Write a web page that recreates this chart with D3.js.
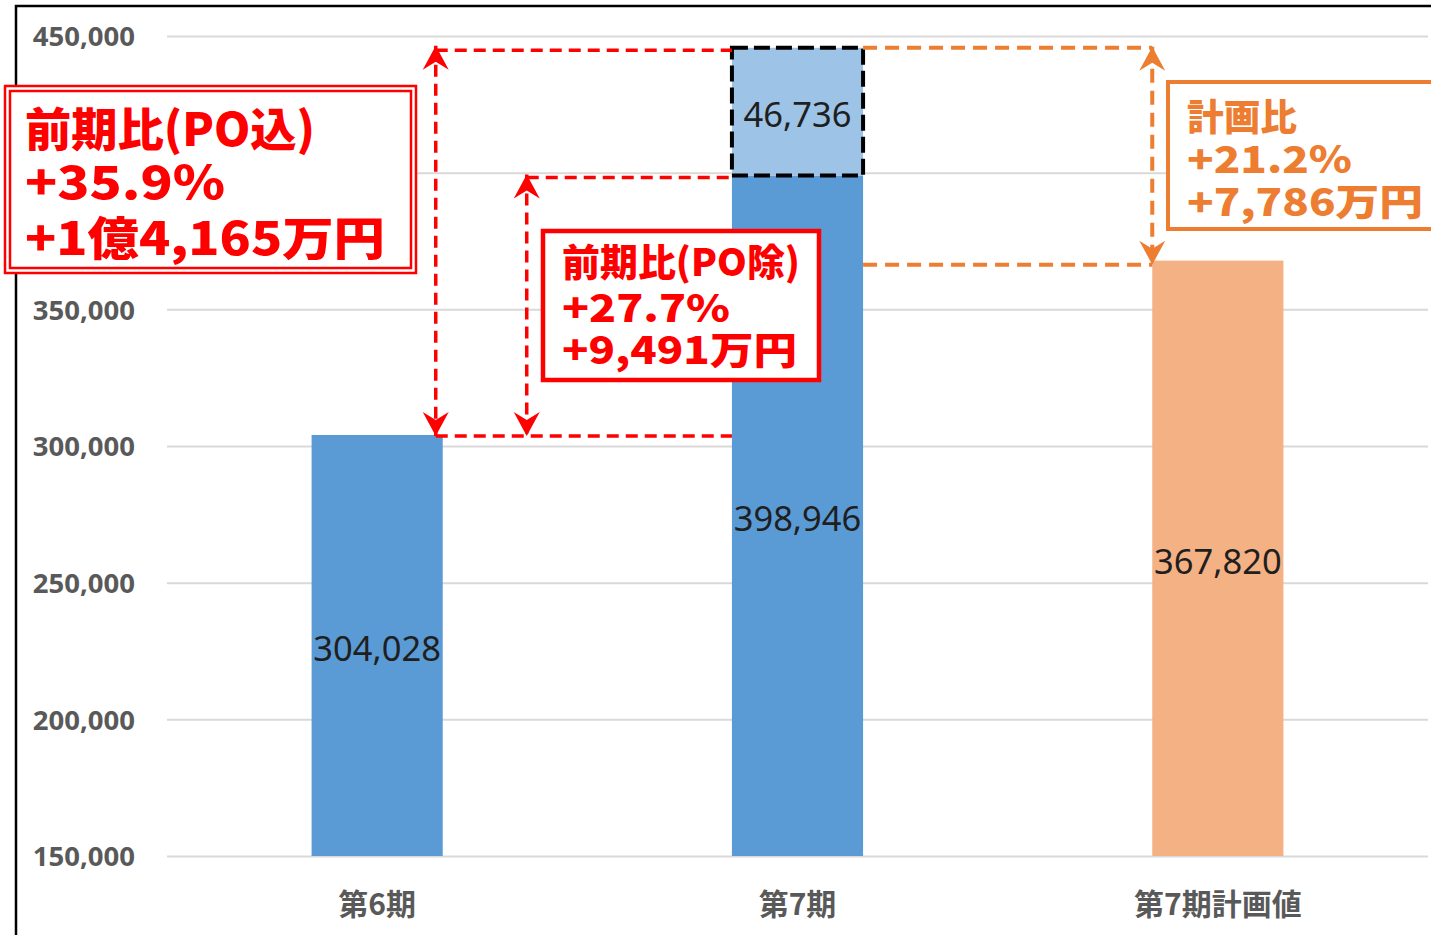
<!DOCTYPE html>
<html>
<head>
<meta charset="utf-8">
<script src="https://cdn.jsdelivr.net/npm/d3@7"></script>
<style>
  body { margin: 0; background: #fff; }
  svg { display: block; }
</style>
</head>
<body>
<svg id="chart" width="1431" height="935"></svg>
<script>
// chart data
var categories = ['第6期', '第7期', '第7期計画値'];
var baseValues = [304028, 398946, 367820];
var poValues = [0, 46736, 0];
var yTicks = [150000, 200000, 250000, 300000, 350000, 400000, 450000];

// callout texts
var poInLines = ['前期比(PO込)', '+35.9%', '+1億4,165万円'];
var poExLines = ['前期比(PO除)', '+27.7%', '+9,491万円'];
var planLines = ['計画比', '+21.2%', '+7,786万円'];

var RED = '#ff0000';
var ORANGE = '#ed7d31';
var CJK = '"Noto Sans CJK JP", "Noto Sans", sans-serif';

var svg = d3.select('#chart');
var plot = {left: 167, right: 1428, top: 36, bottom: 856};

var x = d3.scaleBand()
  .domain(categories)
  .range([plot.left, plot.right])
  .paddingInner(0.688)
  .paddingOuter(0.344);

var y = d3.scaleLinear()
  .domain([150000, 450000])
  .range([plot.bottom, plot.top]);

// outer frame (runs off the right and bottom edges)
svg.append('path')
  .attr('d', 'M16,960 V6 H1460')
  .attr('fill', 'none')
  .attr('stroke', '#000')
  .attr('stroke-width', 2.5);

// y axis with gridlines
var yAxis = svg.append('g')
  .attr('transform', 'translate(' + plot.left + ',0)')
  .call(d3.axisLeft(y)
    .tickValues(yTicks)
    .tickFormat(d3.format(','))
    .tickSize(-(plot.right - plot.left))
    .tickPadding(32));
yAxis.select('.domain').remove();
yAxis.selectAll('line').attr('stroke', '#d9d9d9').attr('stroke-width', 2);
yAxis.selectAll('text')
  .attr('fill', '#595959')
  .attr('dy', '0.36em')
  .style('font-family', '"Noto Sans", sans-serif')
  .style('font-weight', 'bold')
  .style('font-size', '27.5px');
// the 400,000 label sits under the PO callout box, so it never shows
yAxis.selectAll('.tick').filter(function(d) { return d === 400000; })
  .select('text').remove();

// x axis labels
var xAxis = svg.append('g')
  .attr('transform', 'translate(0,' + plot.bottom + ')')
  .call(d3.axisBottom(x).tickSize(0).tickPadding(38));
xAxis.select('.domain').remove();
xAxis.selectAll('text')
  .attr('fill', '#595959')
  .style('font-family', CJK)
  .style('font-weight', 'bold')
  .style('font-size', '30px');

// bars
var rows = categories.map(function(c, i) {
  return {cat: c, base: baseValues[i], po: poValues[i], plan: i === 2};
});

var bars = svg.append('g');
bars.selectAll('.base').data(rows).enter().append('rect')
  .attr('class', 'base')
  .attr('x', function(d) { return x(d.cat); })
  .attr('width', x.bandwidth())
  .attr('y', function(d) { return y(d.base); })
  .attr('height', function(d) { return y(150000) - y(d.base); })
  .attr('fill', function(d) { return d.plan ? '#f4b183' : '#5b9bd5'; });

var poRows = rows.filter(function(d) { return d.po > 0; });
bars.selectAll('.po').data(poRows).enter().append('rect')
  .attr('class', 'po')
  .attr('x', function(d) { return x(d.cat); })
  .attr('width', x.bandwidth())
  .attr('y', function(d) { return y(d.base + d.po); })
  .attr('height', function(d) { return y(d.base) - y(d.base + d.po); })
  .attr('fill', '#9dc3e6')
  .attr('stroke', '#000')
  .attr('stroke-width', 4)
  .attr('stroke-dasharray', '16,6');

// value labels
var fmt = d3.format(',');
var labelData = [];
rows.forEach(function(d) {
  labelData.push({cat: d.cat, v: d.base, lo: 150000, hi: d.base});
  if (d.po > 0) labelData.push({cat: d.cat, v: d.po, lo: d.base, hi: d.base + d.po});
});
svg.append('g').selectAll('text').data(labelData).enter().append('text')
  .attr('x', function(d) { return x(d.cat) + x.bandwidth() / 2; })
  .attr('y', function(d) { return (y(d.lo) + y(d.hi)) / 2 + 3; })
  .attr('dy', '0.36em')
  .attr('text-anchor', 'middle')
  .attr('fill', '#1f1f1f')
  .style('font-family', '"Noto Sans", sans-serif')
  .style('font-size', '34.5px')
  .text(function(d) { return fmt(d.v); });

// arrow markers
var defs = svg.append('defs');
[['arrow-red', RED], ['arrow-orange', ORANGE]].forEach(function(m) {
  defs.append('marker')
    .attr('id', m[0])
    .attr('markerUnits', 'userSpaceOnUse')
    .attr('viewBox', '-26 -14 28 28')
    .attr('markerWidth', 28)
    .attr('markerHeight', 28)
    .attr('refX', 0)
    .attr('refY', 0)
    .attr('orient', 'auto-start-reverse')
    .append('path')
    .attr('d', 'M0,0 L-24,-13 L-16,0 L-24,13 Z')
    .attr('fill', m[1]);
});

var notes = svg.append('g');

function dashLine(x1, y1, x2, y2, color, dash, width, arrows) {
  var line = notes.append('line')
    .attr('x1', x1).attr('y1', y1)
    .attr('x2', x2).attr('y2', y2)
    .attr('stroke', color)
    .attr('stroke-width', width)
    .attr('stroke-dasharray', dash);
  if (arrows) {
    var id = color === RED ? 'arrow-red' : 'arrow-orange';
    line.attr('marker-start', 'url(#' + id + ')').attr('marker-end', 'url(#' + id + ')');
  }
}

var b6 = x(categories[0]);
var b7 = x(categories[1]);
var bp = x(categories[2]);
var bw = x.bandwidth();
var yPrev = y(baseValues[0]);
var yNow = y(baseValues[1]);
var yAll = y(baseValues[1] + poValues[1]);
var yPlan = y(baseValues[2]);

// red: PO included / excluded
var ax1 = b6 + bw - 7;
var ax2 = b6 + bw + 84;
dashLine(ax1, yAll + 2.5, b7, yAll + 2.5, RED, '12,7', 3.5, false);
dashLine(ax1, yPrev + 1, b7, yPrev + 1, RED, '12,7', 3.5, false);
dashLine(ax2, yNow + 2, b7, yNow + 2, RED, '12,7', 3.5, false);
dashLine(ax1, yAll - 2, ax1, yPrev + 1, RED, '12,7', 3.5, true);
dashLine(ax2, yNow - 1, ax2, yPrev + 1, RED, '12,7', 3.5, true);

// orange: vs plan
dashLine(b7 + bw, yAll, bp, yAll, ORANGE, '14,8', 4, false);
dashLine(b7 + bw, yPlan + 4, bp, yPlan + 4, ORANGE, '14,8', 4, false);
dashLine(bp, yAll - 1, bp, yPlan + 4, ORANGE, '14,8', 4, true);

// callout boxes
function callout(lines, box, color, textX, baselines, widths, size) {
  var g = svg.append('g');
  box.forEach(function(r) {
    g.append('rect')
      .attr('x', r[0]).attr('y', r[1])
      .attr('width', r[2]).attr('height', r[3])
      .attr('fill', '#fff')
      .attr('stroke', color)
      .attr('stroke-width', r[4]);
  });
  g.selectAll('text').data(lines).enter().append('text')
    .attr('x', textX)
    .attr('y', function(d, i) { return baselines[i]; })
    .attr('textLength', function(d, i) { return widths[i]; })
    .attr('lengthAdjust', 'spacingAndGlyphs')
    .attr('fill', color)
    .style('font-family', CJK)
    .style('font-weight', 900)
    .style('font-size', size + 'px')
    .text(function(d) { return d; });
}

callout(poInLines, [[5, 86, 411, 187, 2.5], [10, 91, 401, 177, 2.5]], RED,
  25, [146, 199, 255], [290, 200, 360], 46);
callout(poExLines, [[543, 231, 276, 149, 4.5]], RED,
  562, [276, 322, 364], [238, 168, 235], 38);
callout(planLines, [[1168, 82, 300, 147, 4]], ORANGE,
  1187, [131, 173, 216], [110, 165, 236], 37);
</script>
</body>
</html>
